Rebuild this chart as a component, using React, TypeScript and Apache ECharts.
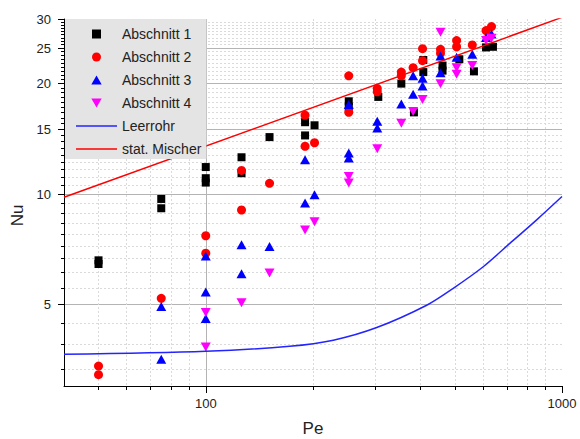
import React, { useEffect, useRef } from "react";
import * as echarts from "echarts";

// ---- tick positions ----
const xMajorTicks = [100, 1000];
const xMajorGrid = [100];
const xMinorTicks = [50, 60, 70, 80, 90, 200, 300, 400, 500, 600, 700, 800, 900];
const yMajorTicks = [5, 10, 15, 20, 25, 30];
const yMajorGrid = [5, 10, 15, 20, 25];
// 8 minor ticks between each pair of major ticks (step 5/9), inside [3, 30]
const yMinorTicks: number[] = [];
for (let m = 0; m < 30; m += 5) {
  for (let k = 1; k <= 8; k++) {
    const v = m + (5 * k) / 9;
    if (v >= 3 && v <= 30) yMinorTicks.push(v);
  }
}

// ---- data [Pe, Nu] ----
const abschnitt1 = [
  [50, 6.6], [50, 6.45], [75, 9.7], [75, 9.15], [100, 11.85], [100, 11.05], [100, 10.75],
  [126, 12.6], [126, 11.4], [151, 14.3], [190, 15.7], [190, 14.45], [202, 15.4],
  [252, 17.9], [252, 17.3], [305, 18.4], [354, 20.0], [384, 16.7], [408, 23.2], [408, 21.5],
  [462, 22.4], [462, 21.7], [515, 23.3], [566, 21.6], [612, 25.1], [640, 25.2],
];
const abschnitt2 = [
  [50, 3.4], [50, 3.22], [75, 5.2], [100, 7.7], [100, 6.9], [126, 11.6], [126, 9.05],
  [151, 10.7], [190, 16.4], [190, 13.5], [202, 13.8], [252, 21.0], [252, 16.7],
  [303, 19.4], [303, 19.0], [354, 21.5], [354, 21.0], [382, 22.1], [406, 24.9], [406, 23.1],
  [456, 24.8], [456, 24.2], [506, 26.2], [506, 25.2], [560, 25.5], [612, 27.9], [634, 28.6],
];
const abschnitt3 = [
  [75, 4.94], [75, 3.55], [100, 6.78], [100, 5.41], [100, 4.58], [126, 7.28], [126, 6.07],
  [151, 7.2], [190, 12.4], [190, 9.45], [202, 9.96], [252, 17.55], [252, 12.95], [252, 12.55],
  [303, 15.8], [303, 15.15], [354, 17.6], [382, 21.0], [382, 18.7], [406, 20.7], [406, 19.7],
  [456, 23.8], [456, 21.4], [506, 23.6], [560, 24.05], [612, 26.7], [634, 27.3],
];
const abschnitt4 = [
  [100, 4.76], [100, 3.83], [126, 5.06], [151, 6.1], [190, 7.98], [202, 8.41],
  [252, 11.17], [252, 10.72], [303, 13.3], [354, 15.6], [382, 16.8], [406, 18.1],
  [456, 27.6], [456, 20.0], [506, 22.1], [506, 21.2], [560, 22.4], [612, 26.2], [634, 26.6],
];
const leerrohr = [
  [40, 3.66], [100, 3.73], [172, 3.85], [228, 4.0], [302, 4.33], [417, 4.98],
  [494, 5.53], [601, 6.34], [715, 7.35], [849, 8.51], [1000, 9.85],
];
const statMischer = [
  [40, 9.8], [1000, 30.3],
];

const seriesNames = ["Abschnitt 1", "Abschnitt 2", "Abschnitt 3", "Abschnitt 4", "Leerrohr", "stat. Mischer"];

const font = "'Liberation Sans', Arial, sans-serif";
const lineIcon = "path://M0,0L41,0L41,1.5L0,1.5Z";
const squareIcon = "path://M0,0L8,0L8,8L0,8Z";
const circleIcon = "path://M4.5,0A4.5,4.5,0,1,1,4.5,9A4.5,4.5,0,1,1,4.5,0Z";
const triUpIcon = "path://M5,0L10,8.7L0,8.7Z";
const triDownIcon = "path://M0,0L10,0L5,8.7Z";

export default function App() {
  const ref = useRef<HTMLDivElement>(null);
  useEffect(() => {
    if (!ref.current) return;
    const chart = echarts.init(ref.current, undefined, { renderer: "svg" });
    const baseX: any = { type: "log", logBase: 10, min: 40, max: 1000, position: "bottom", gridIndex: 0 };
    const baseY: any = { type: "log", logBase: 10, min: 3, max: 30, position: "left", gridIndex: 0 };
    const option: any = {
      animation: false,
      backgroundColor: "#ffffff",
      textStyle: { fontFamily: font },
      grid: { left: 64, right: 18, top: 19, bottom: 53, containLabel: false, outerBoundsMode: "none" },
      xAxis: [
        {
          ...baseX,
          name: "Pe",
          nameLocation: "middle",
          nameGap: 34,
          nameTextStyle: { fontSize: 17, color: "#222", fontFamily: font },
          axisLine: { show: true, onZero: false, lineStyle: { color: "#000", width: 1 } },
          axisTick: { show: true, inside: false, length: 7, customValues: xMajorTicks, lineStyle: { color: "#000" } },
          axisLabel: {
            show: true, customValues: xMajorTicks, margin: 11, fontSize: 13, color: "#222", fontFamily: font,
            formatter: (v: number) => String(Math.round(v)),
          },
          splitLine: { show: false },
        },
        {
          ...baseX,
          axisLine: { show: false, onZero: false },
          axisTick: { show: true, inside: false, length: 4, customValues: xMinorTicks, lineStyle: { color: "#000" } },
          axisLabel: { show: false },
          splitLine: { show: true, lineStyle: { color: "#dadada", width: 1, type: [2, 2] } },
        },
        {
          ...baseX,
          axisLine: { show: false, onZero: false },
          axisTick: { show: false, customValues: xMajorGrid },
          axisLabel: { show: false },
          splitLine: { show: true, lineStyle: { color: "#b4b4b4", width: 1 } },
        },
      ],
      yAxis: [
        {
          ...baseY,
          name: "Nu",
          nameLocation: "middle",
          nameGap: 36,
          nameRotate: 90,
          nameTextStyle: { fontSize: 17, color: "#222", fontFamily: font, padding: [0, 26, 0, 0] },
          axisLine: { show: true, onZero: false, lineStyle: { color: "#000", width: 1 } },
          axisTick: { show: true, inside: false, length: 6, customValues: yMajorTicks, lineStyle: { color: "#000" } },
          axisLabel: {
            show: true, customValues: yMajorTicks, margin: 13, fontSize: 13, color: "#222", fontFamily: font,
            formatter: (v: number) => String(Math.round(v)),
          },
          splitLine: { show: false },
        },
        {
          ...baseY,
          axisLine: { show: false, onZero: false },
          axisTick: { show: true, inside: false, length: 3, customValues: yMinorTicks, lineStyle: { color: "#000" } },
          axisLabel: { show: false },
          splitLine: { show: true, lineStyle: { color: "#dadada", width: 1, type: [2, 2] } },
        },
        {
          ...baseY,
          axisLine: { show: false, onZero: false },
          axisTick: { show: false, customValues: yMajorGrid },
          axisLabel: { show: false },
          splitLine: { show: true, lineStyle: { color: "#b4b4b4", width: 1 } },
        },
      ],
      legend: {
        show: true,
        orient: "vertical",
        left: 65,
        top: 19,
        padding: [8, 5, 3, 11],
        itemWidth: 41,
        itemHeight: 9,
        itemGap: 9,
        symbolKeepAspect: true,
        symbolRotate: 0,
        backgroundColor: "#e4e4e4",
        borderWidth: 0,
        selectedMode: false,
        textStyle: { fontSize: 14, lineHeight: 14, color: "#222", fontFamily: font },
        data: [
          { name: seriesNames[0], icon: squareIcon },
          { name: seriesNames[1], icon: circleIcon },
          { name: seriesNames[2], icon: triUpIcon },
          { name: seriesNames[3], icon: triDownIcon },
          { name: seriesNames[4], icon: lineIcon },
          { name: seriesNames[5], icon: lineIcon },
        ],
      },
      series: [
        {
          name: seriesNames[0], type: "scatter", xAxisIndex: 0, yAxisIndex: 0,
          symbol: "rect", symbolSize: 8, itemStyle: { color: "#000000", opacity: 1 }, data: abschnitt1,
        },
        {
          name: seriesNames[1], type: "scatter", xAxisIndex: 0, yAxisIndex: 0,
          symbol: "circle", symbolSize: 9, itemStyle: { color: "#ff0000", opacity: 1 }, data: abschnitt2,
        },
        {
          name: seriesNames[2], type: "scatter", xAxisIndex: 0, yAxisIndex: 0,
          symbol: "triangle", symbolSize: [10, 9], itemStyle: { color: "#0000ff", opacity: 1 }, data: abschnitt3,
        },
        {
          name: seriesNames[3], type: "scatter", xAxisIndex: 0, yAxisIndex: 0,
          symbol: "triangle", symbolRotate: 180, symbolSize: [10, 9], itemStyle: { color: "#ff00ff", opacity: 1 }, data: abschnitt4,
        },
        {
          name: seriesNames[4], type: "line", xAxisIndex: 0, yAxisIndex: 0,
          symbol: "none", showSymbol: false, smooth: 0.3, clip: true,
          lineStyle: { color: "#2424ff", width: 1.5 }, itemStyle: { color: "#2424ff" }, data: leerrohr,
        },
        {
          name: seriesNames[5], type: "line", xAxisIndex: 0, yAxisIndex: 0,
          symbol: "none", showSymbol: false, clip: true,
          lineStyle: { color: "#ff0000", width: 1.5 }, itemStyle: { color: "#ff0000" }, data: statMischer,
        },
      ],
    };
    chart.setOption(option);
    return () => chart.dispose();
  }, []);
  return <div ref={ref} style={{ position: "fixed", left: 0, top: 0, width: 580, height: 439 }} />;
}
